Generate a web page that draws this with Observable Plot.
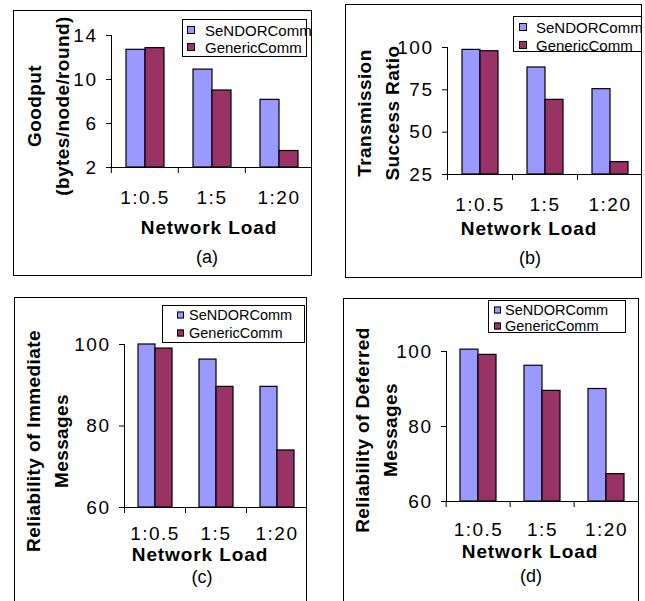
<!DOCTYPE html>
<html>
<head>
<meta charset="utf-8">
<script src="https://cdn.jsdelivr.net/npm/d3@7"></script>
<script src="https://cdn.jsdelivr.net/npm/@observablehq/plot@0.6"></script>
<style>
  html, body { margin: 0; padding: 0; background: #fff; }
  body { font-family: "Liberation Sans", Arial, sans-serif; color: #000; }
  #root { position: relative; width: 645px; height: 601px; overflow: hidden; }
  .box { position: absolute; border: 1px solid #000; box-sizing: border-box; pointer-events: none; }
  .plotwrap { position: absolute; }
  .plotwrap svg { display: block; overflow: visible; }
  .ytitle { position: absolute; font-weight: bold; font-size: 19px; letter-spacing: 0.4px; white-space: nowrap;
            text-align: center; line-height: 28px; transform: translate(-50%, -50%) rotate(-90deg); }
  .xtitle { position: absolute; font-weight: bold; font-size: 19px; letter-spacing: 0.9px; white-space: nowrap;
            transform: translate(-50%, -50%); line-height: 0.85; }
  .caption { position: absolute; font-size: 18px; white-space: nowrap; transform: translate(-50%, -50%); line-height: 1; }
  .legend { position: absolute; border: 1px solid #000; box-sizing: border-box; background: #fff; }
  .legend .item { position: absolute; white-space: nowrap; line-height: 1; transform: translateY(-50%); }
  .legend .sw { position: absolute; border: 1px solid #000; box-sizing: border-box; transform: translateY(-50%); }
</style>
</head>
<body>
<div id="root"></div>
<script>
// ---- data ----
const categories = ["1:0.5", "1:5", "1:20"];
const seriesNames = ["SeNDORComm", "GenericComm"];
const seriesColors = ["#9999ff", "#993366"];

const goodputSeNDOR = [12.7, 10.9, 8.15];
const goodputGeneric = [12.85, 9.0, 3.5];
const goodputTicks = [2, 6, 10, 14];

const successSeNDOR = [98.6, 88.2, 75.4];
const successGeneric = [97.8, 69.1, 32.3];
const successTicks = [25, 50, 75, 100];

const immediateSeNDOR = [100, 96.3, 89.6];
const immediateGeneric = [99.0, 89.6, 74.0];

const deferredSeNDOR = [100.5, 96.2, 90.0];
const deferredGeneric = [99.1, 89.5, 67.3];
const reliabilityTicks = [60, 80, 100];

const xTitle = "Network Load";

// ---- layout (page pixel geometry) ----
const panels = [
  { a: goodputSeNDOR, b: goodputGeneric, ticks: goodputTicks, domain: [2, 14],
    title: ["Goodput", "(bytes/node/round)"], caption: "(a)",
    box: {x0: 13, x1: 312, y0: 10, y1: 276}, plot: {x0: 110, x1: 312, y0: 35, y1: 167}, tickPad: 23,
    yt: {x: 49, y: 106}, xt: {x: 209, y: 228}, cap: {x: 207, y: 257},
    leg: {x0: 182, x1: 307, y0: 19, y1: 57, rows: [29, 46], sw: 186, swSize: 8, tx: 204, fs: 15} },
  { a: successSeNDOR, b: successGeneric, ticks: successTicks, domain: [25, 100],
    title: ["Transmission", "Success Ratio"], caption: "(b)",
    box: {x0: 345, x1: 642, y0: 4, y1: 278}, plot: {x0: 447, x1: 642, y0: 47, y1: 174}, tickPad: 23,
    yt: {x: 379, y: 113}, xt: {x: 529, y: 229}, cap: {x: 530, y: 258},
    leg: {x0: 513, x1: 642, y0: 16, y1: 52, rows: [26, 44], sw: 518, swSize: 8, tx: 535, fs: 15} },
  { a: immediateSeNDOR, b: immediateGeneric, ticks: reliabilityTicks, domain: [60, 100],
    title: ["Reliability of Immediate", "Messages"], caption: "(c)",
    box: {x0: 14, x1: 307, y0: 297, y1: 610}, plot: {x0: 124, x1: 307, y0: 344, y1: 507}, tickPad: 19,
    yt: {x: 47.5, y: 441}, xt: {x: 200, y: 555}, cap: {x: 202, y: 577},
    leg: {x0: 162, x1: 305, y0: 305, y1: 343, rows: [314, 332], sw: 176, swSize: 7, tx: 188, fs: 14.5} },
  { a: deferredSeNDOR, b: deferredGeneric, ticks: reliabilityTicks, domain: [60, 100],
    title: ["Reliability of Deferred", "Messages"], caption: "(d)",
    box: {x0: 343, x1: 639, y0: 298, y1: 610}, plot: {x0: 445, x1: 639, y0: 351, y1: 501}, tickPad: 21,
    yt: {x: 377, y: 430}, xt: {x: 530, y: 552}, cap: {x: 531, y: 576},
    leg: {x0: 488, x1: 626, y0: 300, y1: 333, rows: [309, 325], sw: 493, swSize: 7, tx: 504, fs: 14.5} }
];

const root = document.getElementById("root");

function el(tag, cls, styles, text) {
  const e = document.createElement(tag);
  if (cls) e.className = cls;
  Object.assign(e.style, styles || {});
  if (text != null) e.textContent = text;
  return e;
}

panels.forEach(p => {
  const rows = categories.flatMap((c, i) => [
    {cat: c, series: seriesNames[0], value: p.a[i]},
    {cat: c, series: seriesNames[1], value: p.b[i]}
  ]);
  const W = p.box.x1 - p.box.x0, H = p.box.y1 - p.box.y0;
  const step = (p.plot.x1 - p.plot.x0) / categories.length;
  const ymin = p.domain[0];

  const chart = Plot.plot({
    width: W, height: H,
    marginLeft: p.plot.x0 - p.box.x0,
    marginRight: p.box.x1 - p.plot.x1,
    marginTop: p.plot.y0 - p.box.y0,
    marginBottom: p.box.y1 - p.plot.y1,
    style: {fontFamily: '"Liberation Sans", Arial, sans-serif', fontSize: "19px", color: "#000",
            background: "transparent", letterSpacing: "1.5px"},
    fx: {domain: categories, padding: 0, label: null},
    x: {domain: seriesNames, paddingInner: 0, paddingOuter: 0.72, axis: null},
    y: {domain: p.domain, label: null},
    color: {domain: seriesNames, range: seriesColors},
    marks: [
      Plot.frame({anchor: "left", facetAnchor: "left", stroke: "#000"}),
      Plot.ruleY([ymin], {stroke: "#000"}),
      Plot.barY(rows, {fx: "cat", x: "series", y1: () => ymin, y2: "value",
                       fill: "series", stroke: "#000", strokeWidth: 1.2}),
      Plot.axisY({ticks: p.ticks, tickSize: 5, tickPadding: 9, label: null, tickFormat: d => String(d)}),
      Plot.axisFx({anchor: "bottom", tickSize: 0, tickPadding: p.tickPad, label: null}),
      Plot.axisFx({anchor: "bottom", tickSize: 6, tickFormat: () => "", dx: -step / 2, label: null})
    ]
  });

  const wrap = el("div", "plotwrap", {left: p.box.x0 + "px", top: p.box.y0 + "px"});
  wrap.appendChild(chart);
  root.appendChild(wrap);

  root.appendChild(el("div", "box", {left: p.box.x0 + "px", top: p.box.y0 + "px",
    width: W + "px", height: H + "px"}));

  // y title (two lines, rotated)
  const yt = el("div", "ytitle", {left: p.yt.x + "px", top: p.yt.y + "px"});
  p.title.forEach(line => yt.appendChild(el("div", null, {}, line)));
  root.appendChild(yt);

  root.appendChild(el("div", "xtitle", {left: p.xt.x + "px", top: p.xt.y + "px"}, xTitle));
  root.appendChild(el("div", "caption", {left: p.cap.x + "px", top: p.cap.y + "px"}, p.caption));

  // legend
  const L = p.leg;
  const leg = el("div", "legend", {left: L.x0 + "px", top: L.y0 + "px",
    width: (L.x1 - L.x0) + "px", height: (L.y1 - L.y0) + "px", fontSize: L.fs + "px"});
  seriesNames.forEach((name, i) => {
    const cy = L.rows[i] - L.y0;
    leg.appendChild(el("div", "sw", {left: (L.sw - L.x0) + "px", top: cy + "px",
      width: L.swSize + "px", height: L.swSize + "px", background: seriesColors[i]}));
    leg.appendChild(el("div", "item", {left: (L.tx - L.x0) + "px", top: cy + "px"}, name));
  });
  root.appendChild(leg);
});
</script>
</body>
</html>
